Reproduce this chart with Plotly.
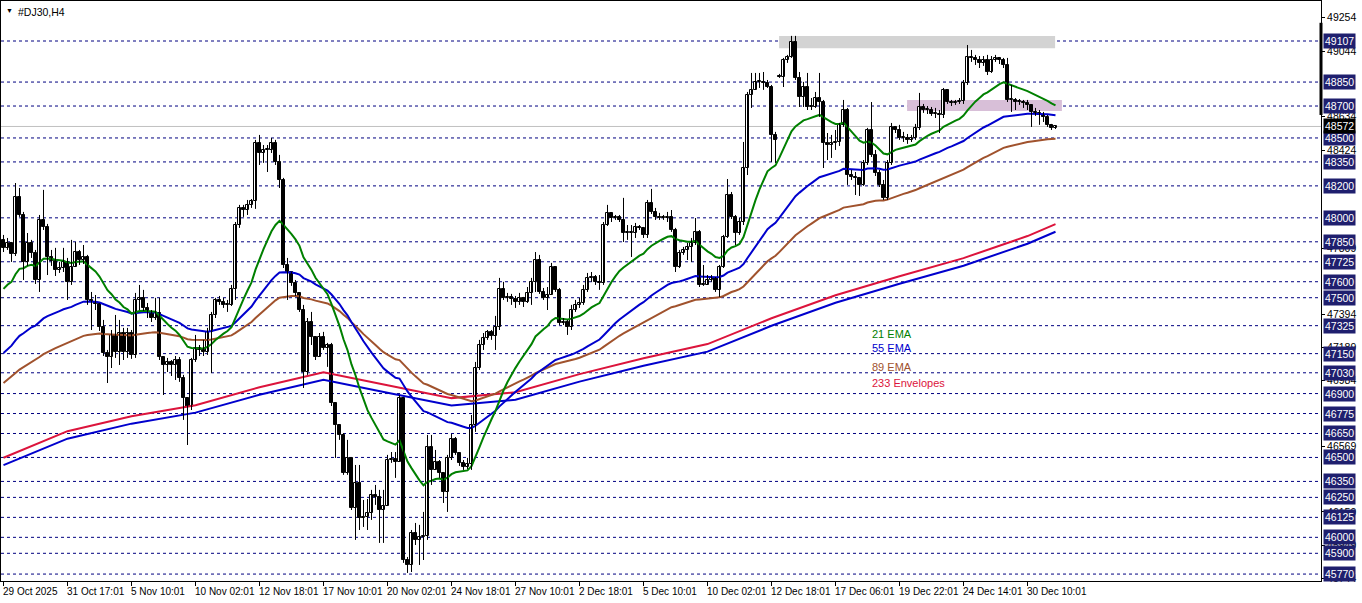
import plotly.graph_objects as go

# ---------------- data (H4 bars, #DJ30) ----------------
first_open = 47862
close = [47812,47843,47774,48131,48018,47724,47843,47780,47611,47987,
         47943,47755,47730,47674,47686,47724,47599,47693,47786,47736,
         47755,47486,47474,47461,47317,47154,47129,47267,47161,47279,
         47161,47279,47142,47486,47499,47436,47405,47373,47405,47129,
         47079,47098,47079,47110,46998,46873,46816,47110,47186,47173,
         47161,47286,47392,47486,47474,47455,47455,47555,47955,48062,
         48049,48081,48106,48469,48406,48425,48425,48469,48350,48237,
         47705,47661,47592,47530,47423,47035,47348,47254,47129,47254,
         47186,47204,46841,46704,46641,46403,46497,46184,46340,46121,
         46128,46153,46265,46253,46171,46196,46484,46491,46472,46873,
         45858,45827,46027,45984,46002,46009,46566,46422,46472,46403,
         46284,46497,46616,46528,46466,46441,46459,46704,47060,47204,
         47248,47286,47261,47317,47555,47499,47505,47492,47474,47499,
         47474,47530,47599,47736,47536,47499,47517,47693,47549,47342,
         47348,47317,47423,47455,47467,47549,47624,47630,47599,47592,
         47955,48031,47999,48006,47987,47905,47905,47905,47943,47937,
         47893,48093,48037,48006,47999,47999,48006,47924,47693,47780,
         47799,47818,47843,47912,47580,47580,47611,47624,47549,47693,
         47880,48143,48006,47905,47974,48312,48769,48801,48851,48851,
         48844,48819,48519,48488,48882,48988,49007,49101,48876,48757,
         48819,48694,48694,48750,48725,48469,48456,48469,48475,48582,
         48675,48268,48256,48250,48206,48344,48550,48394,48281,48206,
         48125,48344,48569,48550,48500,48500,48488,48500,48563,48694,
         48675,48675,48650,48650,48644,48801,48725,48719,48725,48732,
         48844,49007,49001,48988,48970,48988,48913,48988,49001,48988,
         48957,48738,48738,48725,48725,48719,48707,48663,48657,48644,
         48632,48582,48563,48572]
high = [47893,47874,47849,48218,48187,48037,47905,47862,47799,48018,
        48175,47962,47799,47812,47724,47812,47749,47862,47849,47799,
        47830,47768,47536,47517,47467,47361,47173,47298,47392,47361,
        47311,47311,47298,47530,47580,47549,47467,47423,47499,47499,
        47129,47123,47110,47135,47129,47017,46873,47123,47267,47204,
        47236,47311,47411,47499,47511,47499,47486,47580,47974,48081,
        48081,48112,48118,48488,48519,48456,48456,48500,48488,48394,
        48250,47749,47611,47611,47530,47455,47373,47411,47254,47279,
        47286,47217,47217,46847,46704,46653,46610,46497,46453,46453,
        46234,46240,46297,46328,46297,46297,46516,46534,46534,46891,
        46873,45877,46046,46090,46078,46159,46641,46641,46547,46484,
        46409,46516,46647,46628,46516,46484,46497,46766,47098,47236,
        47279,47298,47298,47386,47624,47599,47530,47524,47511,47530,
        47505,47567,47624,47786,47768,47561,47567,47718,47693,47561,
        47373,47361,47455,47486,47499,47580,47655,47661,47642,47642,
        47974,48081,48031,48018,48018,48125,47955,47955,47968,47955,
        47943,48112,48181,48062,48031,48018,48037,48049,47937,47799,
        47818,47843,47874,47999,47924,47705,47642,47642,47630,47705,
        47893,48243,48162,48018,47999,48475,48788,48907,48907,48907,
        48913,48863,48832,48538,48901,49001,49020,49139,49139,48913,
        48851,48907,48750,48788,48907,48738,48531,48519,48550,48594,
        48738,48688,48300,48287,48256,48362,48563,48725,48425,48300,
        48237,48362,48594,48575,48582,48538,48525,48519,48588,48782,
        48713,48700,48694,48688,48675,48813,48801,48738,48738,48750,
        48863,49082,49051,49020,49013,49013,49020,49013,49020,49007,
        49001,49001,48832,48750,48744,48738,48738,48707,48688,48675,
        48663,48644,48588,48575]
low = [47786,47799,47724,47761,48006,47611,47699,47749,47586,47536,
       47924,47642,47699,47636,47655,47661,47486,47580,47724,47705,
       47711,47455,47298,47423,47292,47135,46966,47060,47123,47079,
       47110,47123,47117,47123,47423,47417,47373,47348,47361,47110,
       46891,47035,47010,46985,46973,46735,46578,46797,47098,47135,
       47135,47142,47029,47373,47455,47436,47411,47448,47486,47937,
       48006,48018,48062,48056,48331,48344,48287,48406,48331,48187,
       47686,47486,47574,47511,47411,46935,47017,47204,47110,47236,
       47173,47067,46822,46497,46610,46391,46391,46171,45984,46046,
       46065,46046,46109,46203,45965,45965,46234,46466,46372,46472,
       45840,45777,45783,45952,45827,45858,45984,46328,46422,46372,
       46215,46159,46484,46516,46447,46422,46428,46422,46660,47048,
       47173,47236,47236,47173,47298,47486,47474,47455,47436,47455,
       47442,47467,47455,47536,47524,47486,47423,47517,47536,47329,
       47329,47267,47298,47411,47436,47455,47536,47599,47580,47549,
       47580,47949,47974,47987,47974,47849,47862,47755,47874,47924,
       47874,47874,48024,47987,47987,47987,47974,47912,47661,47686,
       47768,47736,47724,47830,47567,47574,47580,47599,47536,47505,
       47686,47874,47993,47830,47893,47955,48268,48688,48832,48813,
       48801,48813,48350,48344,48876,48819,48970,49001,48863,48694,
       48694,48675,48675,48688,48632,48312,48362,48375,48425,48450,
       48569,48206,48237,48143,48137,48200,48331,48381,48262,48193,
       48112,48112,48331,48531,48488,48475,48463,48475,48488,48550,
       48657,48650,48638,48625,48531,48625,48713,48700,48707,48713,
       48713,48832,48976,48957,48938,48951,48894,48907,48976,48963,
       48938,48725,48663,48675,48707,48688,48675,48569,48638,48582,
       48600,48569,48550,48556]
gap_opens = {194: 48888}          # weekend gap (15 Dec open)

ema_periods = [21, 55, 89]
ema_seeds = [47555, 47154, 46966]  # indicator values at the first visible bar
ema_colors = ["#008000", "#0000CD", "#A0522D"]

env_bars = [0, 16, 32, 48, 64, 80, 96, 112, 128, 144, 160, 176, 192, 208, 224, 240, 256, 263]
env_mid = [46475, 46641, 46735, 46804, 46916, 47010, 46929, 46848, 46885, 46998,
           47098, 47186, 47348, 47492, 47611, 47724, 47862, 47937]
env_dev = 0.0005

time_ticks = list(range(0, 257, 16))
time_labels = ["29 Oct 2025", "31 Oct 17:01", "5 Nov 10:01", "10 Nov 02:01", "12 Nov 18:01",
               "17 Nov 10:01", "20 Nov 02:01", "24 Nov 18:01", "27 Nov 10:01", "2 Dec 18:01",
               "5 Dec 10:01", "10 Dec 02:01", "12 Dec 18:01", "17 Dec 06:01", "19 Dec 22:01",
               "24 Dec 14:01", "30 Dec 10:01"]

levels = [49107, 48850, 48700, 48500, 48350, 48200, 48000, 47850, 47725, 47600, 47500, 47325,
          47150, 47030, 46900, 46775, 46650, 46500, 46350, 46250, 46125, 46000, 45900, 45770]
scale_ticks = [49254, 49044, 48634, 48424, 47809, 47394, 47189, 46984, 46569, 46159, 45949, 45744]
last_price = 48572
scale_marker = (48644, 49221)     # thick segment on the price scale

resist_zone = dict(x0=193.9, x1=262.9, y0=49062, y1=49139)
support_zone = dict(x0=225.9, x1=264.6, y0=48669, y1=48738)

legend_items = [("21 EMA", "#008000", 47273), ("55 EMA", "#0000CD", 47186),
                ("89 EMA", "#A0522D", 47067), ("233 Envelopes", "#DC143C", 46966)]

# ---------------- derived ----------------
n = len(close)
xs = list(range(n))
opens = [first_open] + close[:-1]
for k, v in gap_opens.items():
    opens[k] = v
hi = [max(h, o, c) for h, o, c in zip(high, opens, close)]
lo = [min(l, o, c) for l, o, c in zip(low, opens, close)]


def ema(vals, period, seed):
    a = 2.0 / (period + 1)
    out = [seed]
    for v in vals[1:]:
        out.append(out[-1] + a * (v - out[-1]))
    return out


FONT = "Liberation Sans"
fig = go.Figure()

for lv in levels:
    fig.add_shape(type="line", xref="paper", x0=0, x1=1, yref="y", y0=lv, y1=lv,
                  line=dict(color="#000080", width=1, dash="3px,3px"), layer="below")
fig.add_shape(type="line", xref="paper", x0=0, x1=1, yref="y", y0=last_price, y1=last_price,
              line=dict(color="#C0C0C0", width=1), layer="below")
fig.add_shape(type="rect", xref="x", yref="y", **resist_zone, fillcolor="#D3D3D3",
              line=dict(width=0), layer="below")
fig.add_shape(type="rect", xref="x", yref="y", **support_zone, fillcolor="#D8BFD8",
              line=dict(width=0), layer="below")
fig.add_shape(type="line", xref="paper", x0=1, x1=1, yref="y", y0=scale_marker[0],
              y1=scale_marker[1], line=dict(color="black", width=3), layer="above")

# envelopes
fig.add_trace(go.Scatter(x=env_bars, y=[m * (1 + env_dev) for m in env_mid], mode="lines",
                         line=dict(color="#DC143C", width=2), hoverinfo="skip"))
fig.add_trace(go.Scatter(x=env_bars, y=[m * (1 - env_dev) for m in env_mid], mode="lines",
                         line=dict(color="#0000CD", width=2), hoverinfo="skip"))
# EMAs
for p, s, col in zip(ema_periods[::-1], ema_seeds[::-1], ema_colors[::-1]):
    fig.add_trace(go.Scatter(x=xs, y=ema(close, p, s), mode="lines",
                             line=dict(color=col, width=2), hoverinfo="skip"))

# wicks
wx, wy = [], []
for i in xs:
    wx += [i, i, None]
    wy += [lo[i], hi[i], None]
fig.add_trace(go.Scatter(x=wx, y=wy, mode="lines", line=dict(color="black", width=1),
                         hoverinfo="skip"))
# bodies
MINH = 4
for up in (True, False):
    bx, bb, bh = [], [], []
    for i in xs:
        o, c = opens[i], close[i]
        if (c >= o) == up:
            bx.append(i)
            bb.append(min(o, c))
            bh.append(max(abs(c - o), MINH))
    fig.add_trace(go.Bar(x=bx, y=bh, base=bb, width=0.75,
                         marker=dict(color="white" if up else "black",
                                     line=dict(color="black", width=1)),
                         hoverinfo="skip"))

ann = []
for t, lab in zip(time_ticks, time_labels):
    ann.append(dict(x=t, y=0, xref="x", yref="paper", text=lab, showarrow=False,
                    xanchor="left", yanchor="top", xshift=-3, yshift=-3,
                    font=dict(family=FONT, size=10, color="black")))
for lv in levels:
    ann.append(dict(x=1, y=lv, xref="paper", yref="y", text=str(lv), showarrow=False,
                    xanchor="left", xshift=2, bgcolor="#1F1F6E", borderpad=1,
                    font=dict(family=FONT, size=10.5, color="white")))
ann.append(dict(x=1, y=last_price, xref="paper", yref="y", text=str(last_price), showarrow=False,
                xanchor="left", xshift=2, bgcolor="black", borderpad=1,
                font=dict(family=FONT, size=10.5, color="white")))
for txt, col, yv in legend_items:
    ann.append(dict(x=216.5, y=yv, xref="x", yref="y", text=txt, showarrow=False,
                    xanchor="left", font=dict(family=FONT, size=11, color=col)))
ann.append(dict(x=0, y=1, xref="paper", yref="paper", text="\u25BC", showarrow=False,
                xanchor="left", yanchor="top", xshift=3, yshift=-4,
                font=dict(family=FONT, size=7, color="black")))
ann.append(dict(x=0, y=1, xref="paper", yref="paper", text="#DJ30,H4", showarrow=False,
                xanchor="left", yanchor="top", xshift=15, yshift=-3,
                font=dict(family=FONT, size=10.5, color="black")))

fig.update_layout(
    width=1362, height=603, margin=dict(l=1, r=41, t=1, b=22),
    paper_bgcolor="white", plot_bgcolor="white", showlegend=False,
    barmode="overlay", bargap=0, annotations=ann,
    xaxis=dict(range=[-0.625, 329.375], showgrid=False, zeroline=False,
               tickvals=time_ticks, showticklabels=False, ticks="outside", ticklen=4,
               tickcolor="black", showline=True, mirror=True, linecolor="black", linewidth=1,
               automargin=False, fixedrange=True),
    yaxis=dict(range=[45726.6, 49357.4], side="right", showgrid=False, zeroline=False,
               tickvals=scale_ticks, ticktext=[str(v) for v in scale_ticks],
               ticks="outside", ticklen=3, tickcolor="black",
               tickfont=dict(family=FONT, size=10.5, color="black"),
               showline=True, mirror=True, linecolor="black", linewidth=1,
               automargin=False, fixedrange=True),
)
fig.write_html("out.html", config={"displayModeBar": False},
               post_script="document.body.style.margin='0px';document.body.style.overflow='hidden';")
